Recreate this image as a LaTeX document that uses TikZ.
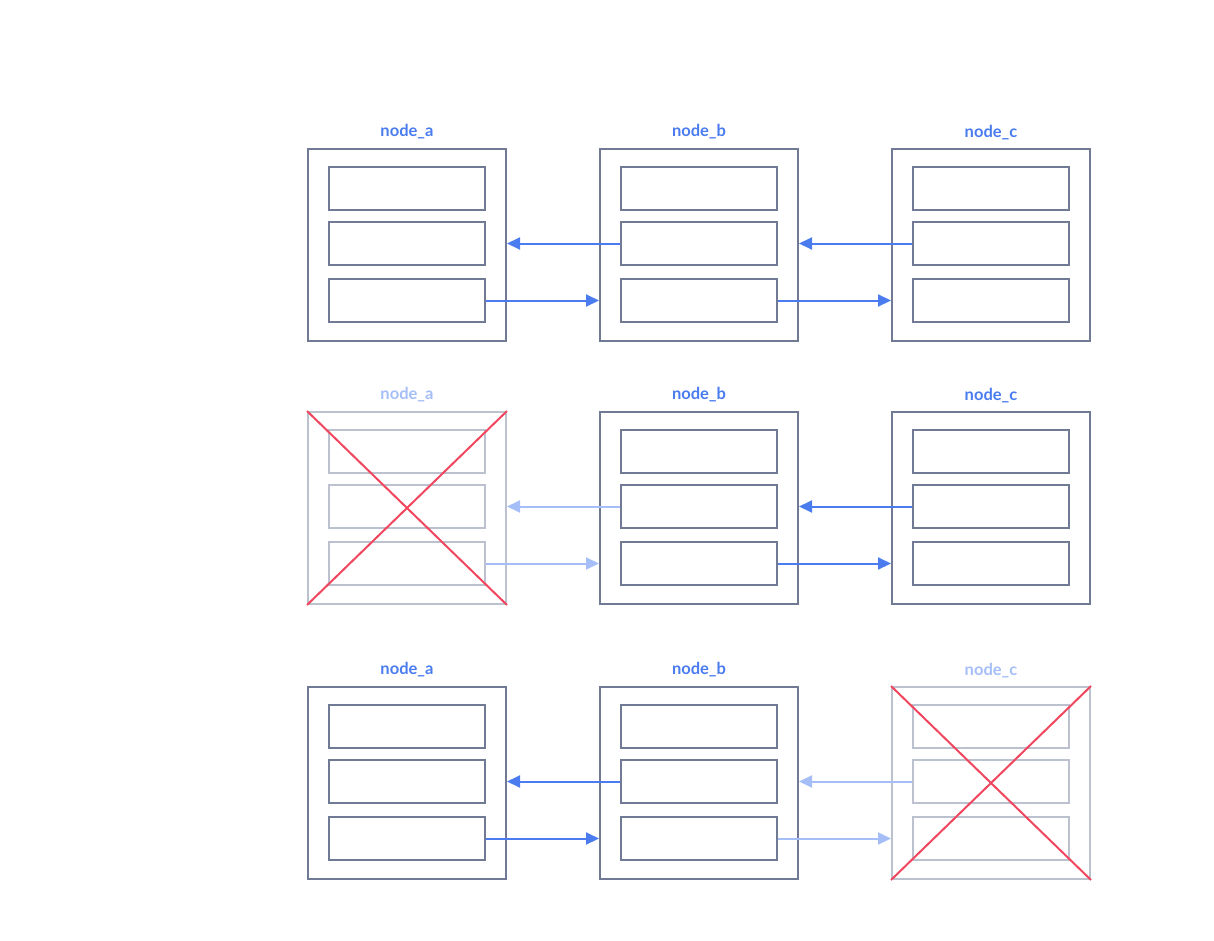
\documentclass[tikz,border=0pt]{standalone}
\usepackage{fontspec}
\setmainfont{Lato}
\usetikzlibrary{arrows.meta}
\definecolor{boxc}{HTML}{717A94}
\definecolor{boxf}{HTML}{BBC1CF}
\definecolor{arrc}{HTML}{4A7CF0}
\definecolor{arrf}{HTML}{A5BEF8}
\definecolor{redx}{HTML}{F0475F}
\tikzset{
  outerbox/.style={draw=boxc, line width=2pt, minimum width=198pt, minimum height=192pt, inner sep=0pt},
  innerbox/.style={draw=boxc, line width=2pt, minimum width=156pt, minimum height=43pt, inner sep=0pt},
  faded/.style={draw=boxf},
  lbl/.style={font=\bfseries\fontsize{16.5}{18}\selectfont, text=arrc},
  lblf/.style={text=arrf},
  conn/.style={draw=arrc, line width=2pt, -{Triangle[length=13pt,width=12pt]}},
  connf/.style={draw=arrf},
  cross/.style={draw=redx, line width=2pt}
}
\newcommand\panel[5]{% name, x, y, boxstyle, labelstyle
  \node[outerbox,#4] (#1) at (#2,#3) {};
  \node[innerbox,#4] (#1-1) at (#2,#3-56.5) {};
  \node[innerbox,#4] (#1-2) at (#2,#3-1.5) {};
  \node[innerbox,#4] (#1-3) at (#2,#3+55.5) {};
}
\begin{document}
\begin{tikzpicture}[x=1pt,y=-1pt]
\useasboundingbox (0,0) rectangle (1214,941);
% row 1
\panel{a1}{407}{245}{}{}
\panel{b1}{699}{245}{}{}
\panel{c1}{991}{245}{}{}
\node[lbl] (la1) at (407,131.5) {node\_a};
\node[lbl] (lb1) at (699,131.5) {node\_b};
\node[lbl] (lc1) at (991,132.5) {node\_c};
\draw[conn] (b1-2.west) -- (b1-2.west -| a1.east);
\draw[conn] (a1-3.east) -- (a1-3.east -| b1.west);
\draw[conn] (c1-2.west) -- (c1-2.west -| b1.east);
\draw[conn] (b1-3.east) -- (b1-3.east -| c1.west);
% row 2
\panel{a2}{407}{508}{faded}{}
\panel{b2}{699}{508}{}{}
\panel{c2}{991}{508}{}{}
\node[lbl,lblf] (la2) at (407,394.5) {node\_a};
\node[lbl] (lb2) at (699,394.5) {node\_b};
\node[lbl] (lc2) at (991,395.5) {node\_c};
\draw[conn,connf] (b2-2.west) -- (b2-2.west -| a2.east);
\draw[conn,connf] (a2-3.east) -- (a2-3.east -| b2.west);
\draw[conn] (c2-2.west) -- (c2-2.west -| b2.east);
\draw[conn] (b2-3.east) -- (b2-3.east -| c2.west);
\draw[cross] (a2.north west) -- (a2.south east);
\draw[cross] (a2.north east) -- (a2.south west);
% row 3
\panel{a3}{407}{783}{}{}
\panel{b3}{699}{783}{}{}
\panel{c3}{991}{783}{faded}{}
\node[lbl] (la3) at (407,669.5) {node\_a};
\node[lbl] (lb3) at (699,669.5) {node\_b};
\node[lbl,lblf] (lc3) at (991,670.5) {node\_c};
\draw[conn] (b3-2.west) -- (b3-2.west -| a3.east);
\draw[conn] (a3-3.east) -- (a3-3.east -| b3.west);
\draw[conn,connf] (c3-2.west) -- (c3-2.west -| b3.east);
\draw[conn,connf] (b3-3.east) -- (b3-3.east -| c3.west);
\draw[cross] (c3.north west) -- (c3.south east);
\draw[cross] (c3.north east) -- (c3.south west);
\end{tikzpicture}
\end{document}
